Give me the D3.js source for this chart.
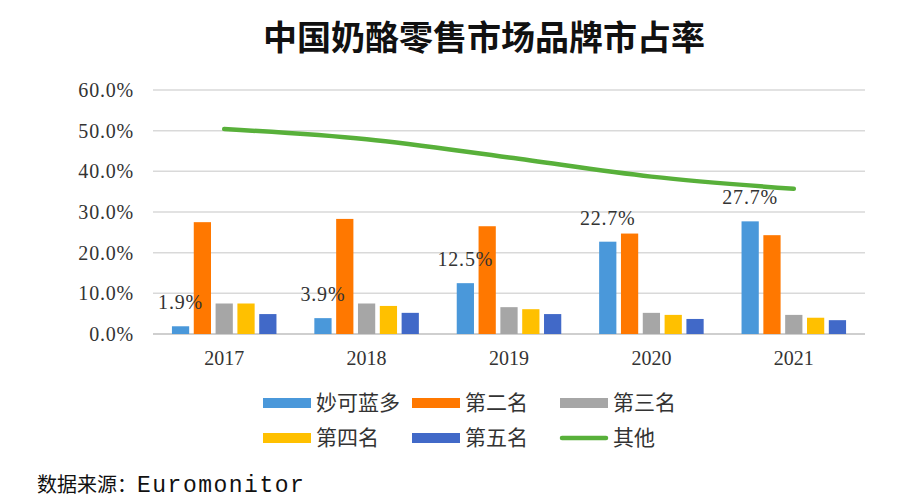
<!DOCTYPE html>
<html>
<head>
<meta charset="utf-8">
<script src="https://cdn.jsdelivr.net/npm/d3@7"></script>
<style>
  body { margin: 0; background: #fff; }
  svg { display: block; }
</style>
</head>
<body>
<div id="chart"></div>
<script>
// Data
const years = ["2017", "2018", "2019", "2020", "2021"];
const barSeries = ["妙可蓝多", "第二名", "第三名", "第四名", "第五名"];
const miaoke = [1.9, 3.9, 12.5, 22.7, 27.7];
const second = [27.5, 28.3, 26.5, 24.7, 24.3];
const third = [7.5, 7.5, 6.6, 5.2, 4.7];
const fourth = [7.5, 6.9, 6.1, 4.7, 4.0];
const fifth = [4.9, 5.2, 4.9, 3.7, 3.4];
const others = [50.4, 47.9, 43.4, 38.7, 35.7];
const yTicks = [0, 10, 20, 30, 40, 50, 60];

const barValues = [miaoke, second, third, fourth, fifth];
const colors = ["#4a98da", "#ff7800", "#a6a6a6", "#ffc000", "#4169c8"];
const lineColor = "#58b03a";

const W = 922, H = 504;
const margin = {top: 90, right: 57, bottom: 170, left: 153};

const svg = d3.select("#chart")
  .append("svg")
    .attr("width", W)
    .attr("height", H);

// Title
svg.append("text")
  .attr("x", 484)
  .attr("y", 50)
  .attr("text-anchor", "middle")
  .attr("font-family", "'Noto Sans CJK SC', sans-serif")
  .attr("font-weight", "bold")
  .attr("font-size", 34)
  .attr("fill", "#111")
  .text("中国奶酪零售市场品牌市占率");

// Scales
const x0 = d3.scaleBand()
  .domain(years)
  .range([margin.left, W - margin.right]);

const x1 = d3.scaleBand()
  .domain(barSeries)
  .range([x0.bandwidth() * 0.133, x0.bandwidth() * 0.867])
  .paddingInner(0.21);

const y = d3.scaleLinear()
  .domain([0, 60])
  .range([H - margin.bottom, margin.top]);

// Grid
svg.append("g")
  .selectAll("line")
  .data(yTicks)
  .join("line")
    .attr("x1", margin.left)
    .attr("x2", W - margin.right)
    .attr("y1", d => y(d))
    .attr("y2", d => y(d))
    .attr("stroke", d => d === 0 ? "#cfcfcf" : "#d9d9d9")
    .attr("stroke-width", d => d === 0 ? 2 : 1.5);

// Y axis labels
const yAxis = svg.append("g")
  .attr("transform", `translate(${margin.left - 16},0)`)
  .call(d3.axisLeft(y).tickValues(yTicks).tickSize(0).tickFormat(d => d.toFixed(1) + "%"));
yAxis.select(".domain").remove();
yAxis.selectAll("text")
  .attr("font-family", "'Liberation Serif', serif")
  .attr("font-size", 20)
  .attr("letter-spacing", 0.8)
  .attr("fill", "#333");

// X axis labels
const xAxis = svg.append("g")
  .attr("transform", `translate(0,${y(0) + 14})`)
  .call(d3.axisBottom(x0).tickSize(0));
xAxis.select(".domain").remove();
xAxis.selectAll("text")
  .attr("font-family", "'Liberation Serif', serif")
  .attr("font-size", 20)
  .attr("fill", "#333");

// Bars
const groups = svg.append("g")
  .selectAll("g")
  .data(years)
  .join("g")
    .attr("transform", d => `translate(${x0(d)},0)`);

groups.selectAll("rect")
  .data((yr, i) => barSeries.map((s, j) => ({series: s, value: barValues[j][i], color: colors[j]})))
  .join("rect")
    .attr("x", d => x1(d.series))
    .attr("width", x1.bandwidth())
    .attr("y", d => y(d.value))
    .attr("height", d => y(0) - y(d.value))
    .attr("fill", d => d.color);

// Data labels on the first series
svg.append("g")
  .selectAll("text")
  .data(years)
  .join("text")
    .attr("x", d => x0(d) + x1(barSeries[0]) + x1.bandwidth() / 2)
    .attr("y", (d, i) => y(miaoke[i]) - 17)
    .attr("text-anchor", "middle")
    .attr("font-family", "'Liberation Serif', serif")
    .attr("font-size", 20)
    .attr("letter-spacing", 0.8)
    .attr("fill", "#333")
    .text((d, i) => miaoke[i].toFixed(1) + "%");

// Line for 其他
const line = d3.line()
  .x((d, i) => x0(years[i]) + x0.bandwidth() / 2)
  .y(d => y(d))
  .curve(d3.curveMonotoneX);

svg.append("path")
  .datum(others)
  .attr("d", line)
  .attr("fill", "none")
  .attr("stroke", lineColor)
  .attr("stroke-width", 4.5)
  .attr("stroke-linecap", "round");

// Legend
const legendItems = barSeries.map((s, i) => ({name: s, color: colors[i], type: "bar"}))
  .concat([{name: "其他", color: lineColor, type: "line"}]);
const legendX = [263, 412, 560];
const legendY = [403, 438];

const legend = svg.append("g")
  .selectAll("g")
  .data(legendItems)
  .join("g")
    .attr("transform", (d, i) => `translate(${legendX[i % 3]},${legendY[Math.floor(i / 3)]})`);

legend.filter(d => d.type === "bar")
  .append("rect")
    .attr("x", 0)
    .attr("y", -5)
    .attr("width", 48)
    .attr("height", 10)
    .attr("fill", d => d.color);

legend.filter(d => d.type === "line")
  .append("line")
    .attr("x1", 2)
    .attr("x2", 46)
    .attr("stroke", d => d.color)
    .attr("stroke-width", 4.5)
    .attr("stroke-linecap", "round");

legend.append("text")
  .attr("x", 53)
  .attr("dy", "0.35em")
  .attr("font-family", "'Noto Sans CJK SC', sans-serif")
  .attr("font-size", 21)
  .attr("fill", "#333")
  .text(d => d.name);

// Source note
svg.append("text")
  .attr("x", 37)
  .attr("y", 492)
  .attr("fill", "#111")
  .call(t => t.append("tspan")
    .attr("font-family", "'Noto Sans CJK SC', sans-serif")
    .attr("font-size", 20)
    .text("数据来源："))
  .call(t => t.append("tspan")
    .attr("font-family", "'Liberation Mono', monospace")
    .attr("font-size", 23)
    .attr("letter-spacing", 1.5)
    .text("Euromonitor"));
</script>
</body>
</html>
